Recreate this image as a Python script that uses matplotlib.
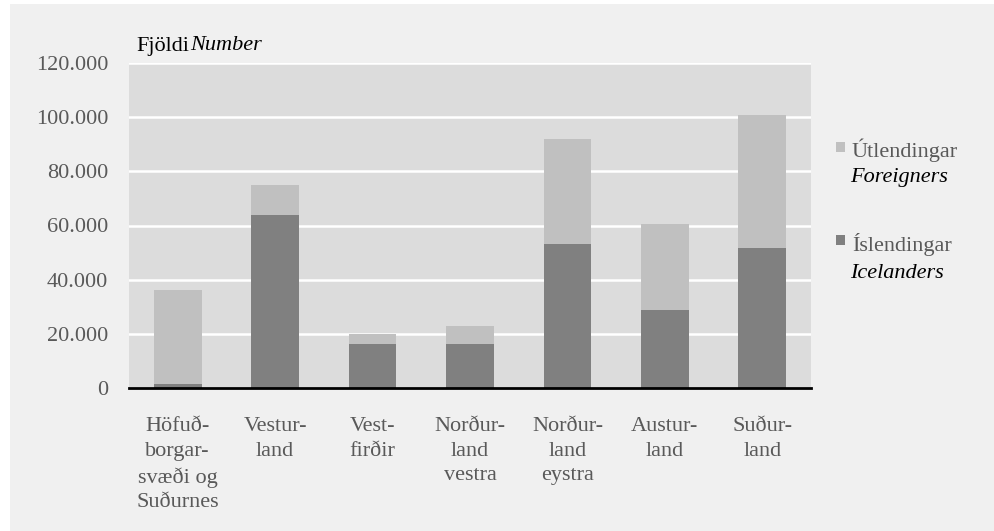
import matplotlib.pyplot as plt
from matplotlib.patches import Rectangle
from matplotlib.ticker import FuncFormatter

plt.rcParams["font.family"] = ["Liberation Serif", "DejaVu Serif"]

regions = [
    "Höfuð-\nborgar-\nsvæði og\nSuðurnes",
    "Vestur-\nland",
    "Vest-\nfirðir",
    "Norður-\nland\nvestra",
    "Norður-\nland\neystra",
    "Austur-\nland",
    "Suður-\nland",
]
icelanders = [1500, 63700, 16300, 16300, 53300, 28900, 51800]
foreigners = [34800, 11100, 3700, 6700, 38600, 31800, 48900]
y_ticks = [0, 20000, 40000, 60000, 80000, 100000, 120000]

DARK = "#808080"
LIGHT = "#c0c0c0"
TEXT = "#595959"
FS = 16
W, H = 994, 531

fig = plt.figure(figsize=(W / 100, H / 100), dpi=100)
fig.patch.set_facecolor("white")
fig.patches.append(Rectangle((10 / W, 0), 1, 1 - 4 / H, transform=fig.transFigure,
                             facecolor="#f0f0f0", edgecolor="none", zorder=-10))

ax = fig.add_axes([129 / W, 1 - 388 / H, (811 - 129) / W, (388 - 63) / H])
ax.set_facecolor("#dcdcdc")

x = list(range(len(regions)))
ax.bar(x, icelanders, width=0.49, color=DARK, zorder=3)
ax.bar(x, foreigners, width=0.49, bottom=icelanders, color=LIGHT, zorder=3)

ax.set_xlim(-0.5, len(regions) - 0.5)
ax.set_ylim(0, 120000)
ax.set_yticks(y_ticks)
ax.yaxis.set_major_formatter(FuncFormatter(lambda v, p: f"{int(v):,}".replace(",", ".")))
ax.grid(axis="y", color="white", linewidth=1.8, zorder=1)
ax.set_axisbelow(True)

ax.set_xticks(x)
ax.set_xticklabels(regions, linespacing=1.4, multialignment="center")
ax.tick_params(axis="x", length=0, pad=21, labelsize=FS, labelcolor=TEXT)
ax.tick_params(axis="y", length=0, pad=15, labelsize=FS, labelcolor=TEXT)

for side in ["top", "right", "left"]:
    ax.spines[side].set_visible(False)
ax.spines["bottom"].set_color("black")
ax.spines["bottom"].set_linewidth(2)
ax.spines["bottom"].set_zorder(5)

# axis title above plot
fig.text(136 / W, 1 - 46 / H, "Fjöldi", fontsize=FS, color="black", va="center")
fig.text(190 / W, 1 - 46 / H, "Number", fontsize=FS, color="black", va="center", style="italic")

# legend
legend_items = [
    (LIGHT, "Útlendingar", "Foreigners", 142, 150, 178),
    (DARK, "Íslendingar", "Icelanders", 235, 245, 274),
]
for color, name, name_en, sq_top, y1, y2 in legend_items:
    fig.patches.append(Rectangle((836 / W, 1 - (sq_top + 10) / H), 9 / W, 10 / H,
                                 transform=fig.transFigure, facecolor=color, edgecolor="none"))
    fig.text(852 / W, 1 - y1 / H, name, fontsize=FS, color=TEXT, va="center")
    fig.text(850 / W, 1 - y2 / H, name_en, fontsize=FS, color="black", va="center", style="italic")

fig.savefig("out.png", dpi=100, facecolor=fig.get_facecolor())
